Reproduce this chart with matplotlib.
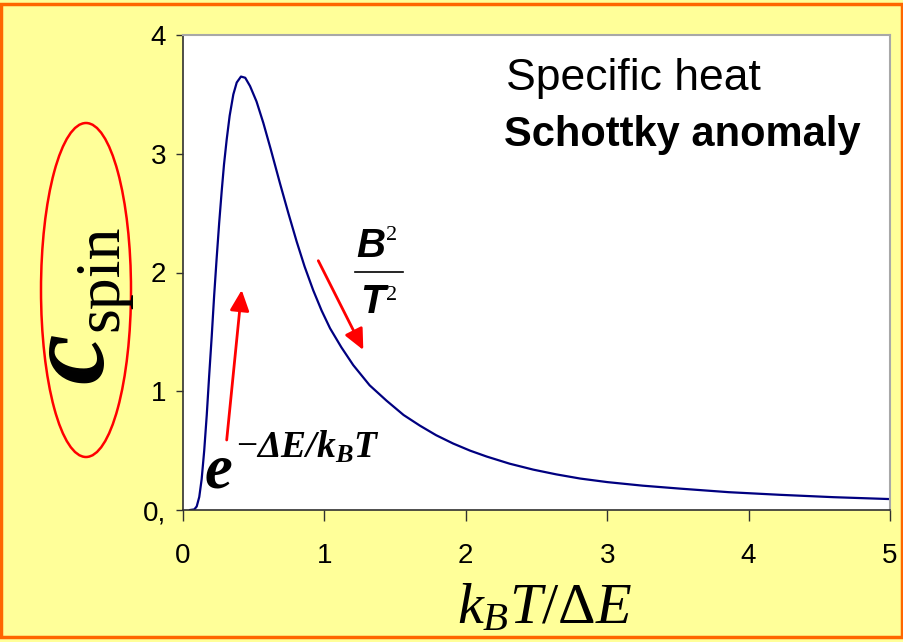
import numpy as np
import matplotlib
matplotlib.use("Agg")
import matplotlib.pyplot as plt
from matplotlib.patches import Rectangle, Ellipse
from matplotlib.lines import Line2D

# curve (k_B T / dE, c_spin)
temp = [0.05, 0.08, 0.097, 0.115, 0.132, 0.15, 0.168, 0.185, 0.203, 0.22, 0.238,
        0.256, 0.274, 0.29, 0.309, 0.33, 0.356, 0.38, 0.41, 0.44, 0.474, 0.52,
        0.568, 0.62, 0.686, 0.745, 0.804, 0.86, 0.921, 0.98, 1.04, 1.12, 1.204,
        1.32, 1.44, 1.56, 1.676, 1.79, 1.91, 2.03, 2.148, 2.31, 2.477, 2.64,
        2.808, 3.0, 3.25, 3.515, 3.86, 4.22, 4.6, 5.0]
cspin = [0.0, 0.005, 0.03, 0.11, 0.26, 0.50, 0.80, 1.13, 1.46, 1.80, 2.12,
         2.42, 2.69, 2.91, 3.12, 3.32, 3.50, 3.60, 3.65, 3.64, 3.57, 3.44,
         3.26, 3.04, 2.75, 2.50, 2.26, 2.05, 1.85, 1.68, 1.53, 1.37, 1.22,
         1.05, 0.92, 0.80, 0.71, 0.63, 0.56, 0.50, 0.45, 0.39, 0.34, 0.30,
         0.265, 0.235, 0.205, 0.18, 0.15, 0.128, 0.108, 0.092]

xticks = [0, 1, 2, 3, 4, 5]
yticks = [0, 1, 2, 3, 4]
ytick_labels = ["0,", "1", "2", "3", "4"]

W, H = 904, 642
yellow = "#FFFF99"
orange = "#FF6600"

plt.rcParams["mathtext.fontset"] = "custom"
plt.rcParams["mathtext.rm"] = "Liberation Serif"
plt.rcParams["mathtext.it"] = "Liberation Serif:italic"
plt.rcParams["mathtext.bf"] = "Liberation Serif:bold:italic"

fig = plt.figure(figsize=(W / 100, H / 100), dpi=100, facecolor=yellow)

def fx(x):
    return x / W

def fy(y):
    return 1 - y / H

# axes box in pixels: x 183..890, y 35..510
ax = fig.add_axes([fx(183), fy(510), (890 - 183) / W, (510 - 35) / H])
ax.set_facecolor("white")
ax.plot(temp, cspin, color="#000080", linewidth=1.6)
ax.set_xlim(0, 5)
ax.set_ylim(0, 4)
ax.set_xticks(xticks)
ax.set_yticks(yticks)
ax.set_yticklabels(ytick_labels)

for side in ["top", "right"]:
    ax.spines[side].set_color("#A8A8A8")
    ax.spines[side].set_linewidth(1.5)
for side in ["left", "bottom"]:
    ax.spines[side].set_color("#303030")
    ax.spines[side].set_linewidth(1.2)

ax.tick_params(axis="x", direction="out", length=8, width=1, color="#303030", pad=16)
ax.tick_params(axis="y", direction="out", length=5, width=1, color="#303030", pad=7)
for lab in ax.get_xticklabels() + ax.get_yticklabels():
    lab.set_fontfamily("Liberation Sans")
    lab.set_fontsize(20)

# orange frame round the slide
fig.patches.append(Rectangle((fx(1.5), fy(637)), (902 - 1.5) / W, (637 - 3.5) / H,
                             transform=fig.transFigure, fill=False,
                             edgecolor=orange, linewidth=2.5))

# x label
fig.text(fx(545), fy(623), r"$k_B T/\Delta E$", fontsize=42,
         ha="center", va="baseline")

# y label: c_spin inside a red ellipse
fig.patches.append(Ellipse((fx(86), fy(290)), 90 / W, 334 / H,
                           transform=fig.transFigure, fill=False,
                           edgecolor="red", linewidth=1.8))
fig.text(fx(74), fy(358), "c", fontsize=82, family="Liberation Serif",
         style="italic", weight="bold", rotation=90, ha="center", va="center")
fig.text(fx(102), fy(278), "spin", fontsize=46, family="Liberation Serif",
         rotation=90, ha="center", va="center")

# titles in the plot
fig.text(fx(506), fy(90), "Specific heat", fontsize=32,
         family="Liberation Sans", ha="left", va="baseline")
fig.text(fx(504), fy(146), "Schottky anomaly", fontsize=30,
         family="Liberation Sans", weight="bold", ha="left", va="baseline")

# exponential annotation
fig.text(fx(205), fy(488), "e", fontsize=45, family="Liberation Serif",
         style="italic", weight="bold", ha="left", va="baseline")
fig.text(fx(236), fy(458), r"$-\mathbf{\Delta E/k_{B}T}$", fontsize=27,
         ha="left", va="baseline")

# B^2 / T^2
fig.text(fx(371), fy(257), "B", fontsize=29, family="Liberation Sans",
         style="italic", weight="bold", ha="center", va="baseline")
fig.text(fx(386), fy(240), "2", fontsize=16, family="Liberation Serif",
         ha="left", va="baseline")
fig.lines.append(Line2D([fx(355), fx(403)], [fy(272), fy(272)],
                        transform=fig.transFigure, color="black", linewidth=1.2))
fig.text(fx(372), fy(313), "T", fontsize=29, family="Liberation Sans",
         style="italic", weight="bold", ha="center", va="baseline")
fig.text(fx(386), fy(300), "2", fontsize=16, family="Liberation Serif",
         ha="left", va="baseline")

# red arrows
arrow = dict(arrowstyle="-|>,head_length=0.9,head_width=0.42", color="red",
             lw=2, mutation_scale=14, shrinkA=0, shrinkB=0)
ax.annotate("", xy=(241.7, H - 290), xytext=(226.7, H - 440),
            xycoords="figure pixels", textcoords="figure pixels", arrowprops=arrow)
ax.annotate("", xy=(363.3, H - 350), xytext=(318.3, H - 260.7),
            xycoords="figure pixels", textcoords="figure pixels", arrowprops=arrow)

fig.savefig("out.png", dpi=100, facecolor=yellow)
